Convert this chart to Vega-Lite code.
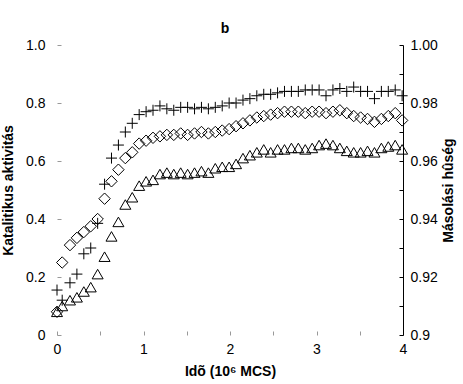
{
  "$schema": "https://vega.github.io/schema/vega-lite/v6.json",
  "width": 346,
  "height": 290,
  "autosize": "none",
  "padding": {"left": 57, "top": 45, "right": 60, "bottom": 49},
  "background": "white",
  "config": {
    "view": {"stroke": null},
    "font": "Liberation Sans",
    "axis": {"grid": false, "labelFont": "Liberation Sans", "titleFont": "Liberation Sans", "labelFontSize": 14, "titleFontSize": 14, "titleFontWeight": "bold", "labelColor": "black", "titleColor": "black"}
  },
  "title": {"text": "b", "fontSize": 14, "fontWeight": "bold", "font": "Liberation Sans", "anchor": "middle", "frame": "group", "dx": -5, "offset": 2, "color": "black"},
  "data": {"values": [
    {"t": 0.00, "plus": 0.155, "tri": 0.08, "fid": 0.908},
    {"t": 0.06, "plus": 0.12, "tri": 0.10, "fid": 0.925},
    {"t": 0.15, "plus": 0.18, "tri": 0.12, "fid": 0.931},
    {"t": 0.23, "plus": 0.21, "tri": 0.13, "fid": 0.9335},
    {"t": 0.31, "plus": 0.28, "tri": 0.15, "fid": 0.9355},
    {"t": 0.39, "plus": 0.30, "tri": 0.165, "fid": 0.9375},
    {"t": 0.47, "plus": 0.385, "tri": 0.21, "fid": 0.940},
    {"t": 0.55, "plus": 0.52, "tri": 0.27, "fid": 0.947},
    {"t": 0.63, "plus": 0.61, "tri": 0.34, "fid": 0.953},
    {"t": 0.71, "plus": 0.655, "tri": 0.39, "fid": 0.957},
    {"t": 0.79, "plus": 0.70, "tri": 0.45, "fid": 0.961},
    {"t": 0.87, "plus": 0.73, "tri": 0.475, "fid": 0.963},
    {"t": 0.95, "plus": 0.76, "tri": 0.515, "fid": 0.966},
    {"t": 1.03, "plus": 0.77, "tri": 0.53, "fid": 0.967},
    {"t": 1.11, "plus": 0.775, "tri": 0.535, "fid": 0.968},
    {"t": 1.19, "plus": 0.79, "tri": 0.555, "fid": 0.9685},
    {"t": 1.27, "plus": 0.78, "tri": 0.56, "fid": 0.969},
    {"t": 1.35, "plus": 0.775, "tri": 0.555, "fid": 0.969},
    {"t": 1.43, "plus": 0.785, "tri": 0.56, "fid": 0.9695},
    {"t": 1.51, "plus": 0.785, "tri": 0.555, "fid": 0.969},
    {"t": 1.59, "plus": 0.78, "tri": 0.56, "fid": 0.9695},
    {"t": 1.67, "plus": 0.785, "tri": 0.565, "fid": 0.970},
    {"t": 1.75, "plus": 0.78, "tri": 0.56, "fid": 0.9695},
    {"t": 1.83, "plus": 0.785, "tri": 0.575, "fid": 0.970},
    {"t": 1.91, "plus": 0.79, "tri": 0.58, "fid": 0.9705},
    {"t": 1.99, "plus": 0.80, "tri": 0.58, "fid": 0.971},
    {"t": 2.07, "plus": 0.80, "tri": 0.59, "fid": 0.972},
    {"t": 2.15, "plus": 0.81, "tri": 0.61, "fid": 0.973},
    {"t": 2.23, "plus": 0.815, "tri": 0.62, "fid": 0.974},
    {"t": 2.31, "plus": 0.825, "tri": 0.63, "fid": 0.975},
    {"t": 2.39, "plus": 0.83, "tri": 0.64, "fid": 0.9755},
    {"t": 2.47, "plus": 0.83, "tri": 0.63, "fid": 0.976},
    {"t": 2.55, "plus": 0.835, "tri": 0.64, "fid": 0.9765},
    {"t": 2.63, "plus": 0.84, "tri": 0.64, "fid": 0.977},
    {"t": 2.71, "plus": 0.84, "tri": 0.645, "fid": 0.977},
    {"t": 2.79, "plus": 0.84, "tri": 0.645, "fid": 0.977},
    {"t": 2.87, "plus": 0.845, "tri": 0.64, "fid": 0.9765},
    {"t": 2.95, "plus": 0.845, "tri": 0.645, "fid": 0.977},
    {"t": 3.03, "plus": 0.845, "tri": 0.655, "fid": 0.977},
    {"t": 3.11, "plus": 0.825, "tri": 0.66, "fid": 0.9765},
    {"t": 3.19, "plus": 0.845, "tri": 0.655, "fid": 0.977},
    {"t": 3.27, "plus": 0.85, "tri": 0.645, "fid": 0.9775},
    {"t": 3.35, "plus": 0.84, "tri": 0.635, "fid": 0.9765},
    {"t": 3.43, "plus": 0.855, "tri": 0.63, "fid": 0.9755},
    {"t": 3.51, "plus": 0.84, "tri": 0.63, "fid": 0.975},
    {"t": 3.59, "plus": 0.84, "tri": 0.635, "fid": 0.9745},
    {"t": 3.67, "plus": 0.815, "tri": 0.63, "fid": 0.9735},
    {"t": 3.75, "plus": 0.84, "tri": 0.645, "fid": 0.9745},
    {"t": 3.83, "plus": 0.84, "tri": 0.65, "fid": 0.9755},
    {"t": 3.91, "plus": 0.845, "tri": 0.655, "fid": 0.9765},
    {"t": 3.99, "plus": 0.825, "tri": 0.64, "fid": 0.974}
  ]},
  "encoding": {
    "x": {"field": "t", "type": "quantitative", "scale": {"domain": [0, 4], "nice": false, "zero": false},
      "axis": {"title": "Idõ (10⁶ MCS)", "values": [0, 0.5, 1, 1.5, 2, 2.5, 3, 3.5, 4],
        "labelExpr": "datum.value % 1 == 0 ? format(datum.value, 'd') : ''",
        "domain": false, "tickColor": "#999999", "tickSize": 4, "offset": -4, "labelPadding": 7, "titlePadding": 8, "labelFlush": false}}
  },
  "layer": [
    {
      "layer": [
        {
          "mark": {"type": "point", "shape": "M-1,0L1,0M0,-1L0,1", "filled": false, "stroke": "black", "strokeWidth": 1, "size": 121, "opacity": 1},
          "encoding": {
            "y": {"field": "plus", "type": "quantitative", "scale": {"domain": [0, 1], "nice": false},
              "axis": {"orient": "left", "title": "Katalitikus aktivitás", "values": [0, 0.1, 0.2, 0.3, 0.4, 0.5, 0.6, 0.7, 0.8, 0.9, 1.0],
                "labelExpr": "round(datum.value * 10) % 2 == 1 ? '' : (datum.value == 0 ? '0' : format(datum.value, '.1f'))",
                "domain": false, "tickColor": "#999999", "tickSize": 4, "offset": -4, "labelPadding": 12, "titlePadding": 10}}
          }
        },
        {
          "mark": {"type": "point", "shape": "triangle-up", "filled": false, "stroke": "black", "strokeWidth": 1, "size": 121, "opacity": 1},
          "encoding": {
            "y": {"field": "tri", "type": "quantitative"}
          }
        }
      ]
    },
    {
      "mark": {"type": "point", "shape": "diamond", "filled": false, "stroke": "black", "strokeWidth": 1, "size": 130, "opacity": 1},
      "encoding": {
        "y": {"field": "fid", "type": "quantitative", "scale": {"domain": [0.9, 1.0], "nice": false, "zero": false},
          "axis": {"orient": "right", "title": "Másolási hûség", "titleAngle": -90, "titleBaseline": "top", "values": [0.9, 0.91, 0.92, 0.93, 0.94, 0.95, 0.96, 0.97, 0.98, 0.99, 1.0],
            "labelExpr": "round(datum.value * 100) % 2 == 1 ? '' : (round(datum.value * 100) == 90 ? '0.9' : format(datum.value, '.2f'))",
            "domain": true, "domainColor": "black", "tickColor": "black", "tickSize": -4, "labelPadding": 11, "titlePadding": 4}}
      }
    }
  ],
  "resolve": {"scale": {"y": "independent"}, "axis": {"y": "independent"}}
}
